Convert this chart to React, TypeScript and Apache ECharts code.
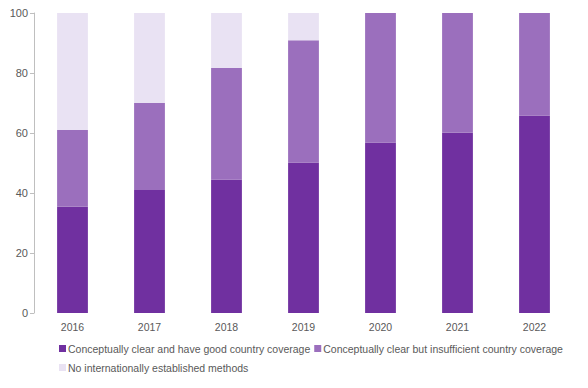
import React, { useEffect, useRef } from "react";
import * as echarts from "echarts";

const categories = ["2016", "2017", "2018", "2019", "2020", "2021", "2022"];
const goodCoverage = [35.4, 41, 44.5, 50.2, 56.8, 60.1, 65.8];
const insufficientCoverage = [25.6, 29, 37.2, 40.7, 43.2, 39.9, 34.2];
const noMethods = [39, 30, 18.3, 9.1, 0, 0, 0];
const seriesNames = [
  "Conceptually clear and have good country coverage",
  "Conceptually clear but insufficient country coverage",
  "No internationally established methods",
];
const colors = ["#7030A0", "#9B6FBD", "#E9E2F3"];

export default function App() {
  const ref = useRef<HTMLDivElement>(null);
  useEffect(() => {
    if (!ref.current) return;
    const chart = echarts.init(ref.current, undefined, { renderer: "svg" });
    const font = "Liberation Sans";
    const data = [goodCoverage, insufficientCoverage, noMethods];
    chart.setOption({
      animation: false,
      color: colors,
      grid: { left: 34, right: 15, top: 13, bottom: 75, containLabel: false },
      xAxis: {
        type: "category",
        data: categories,
        axisLine: { show: false },
        axisTick: { show: false },
        axisLabel: { color: "#595959", fontSize: 10.5, fontFamily: font, margin: 8 },
      },
      yAxis: {
        type: "value",
        min: 0,
        max: 100,
        interval: 20,
        axisLine: { show: true, lineStyle: { color: "#BFBFBF" } },
        axisTick: { show: true, length: 4, lineStyle: { color: "#BFBFBF" } },
        splitLine: { show: false },
        axisLabel: { color: "#595959", fontSize: 11, fontFamily: font, margin: 6 },
      },
      legend: {
        left: 54,
        right: 4,
        top: 336,
        itemWidth: 7,
        itemHeight: 7,
        itemGap: 4,
        icon: "rect",
        textStyle: {
          color: "#595959",
          fontSize: 10.5,
          lineHeight: 15,
          fontFamily: font,
          padding: [0, 0, 0, -3],
        },
        data: seriesNames,
      },
      series: seriesNames.map((name, i) => ({
        name,
        type: "bar",
        stack: "total",
        barWidth: "40%",
        data: data[i],
        itemStyle: { color: colors[i] },
      })),
    });
    return () => chart.dispose();
  }, []);
  return <div ref={ref} style={{ width: 588, height: 388, margin: -8 }} />;
}
